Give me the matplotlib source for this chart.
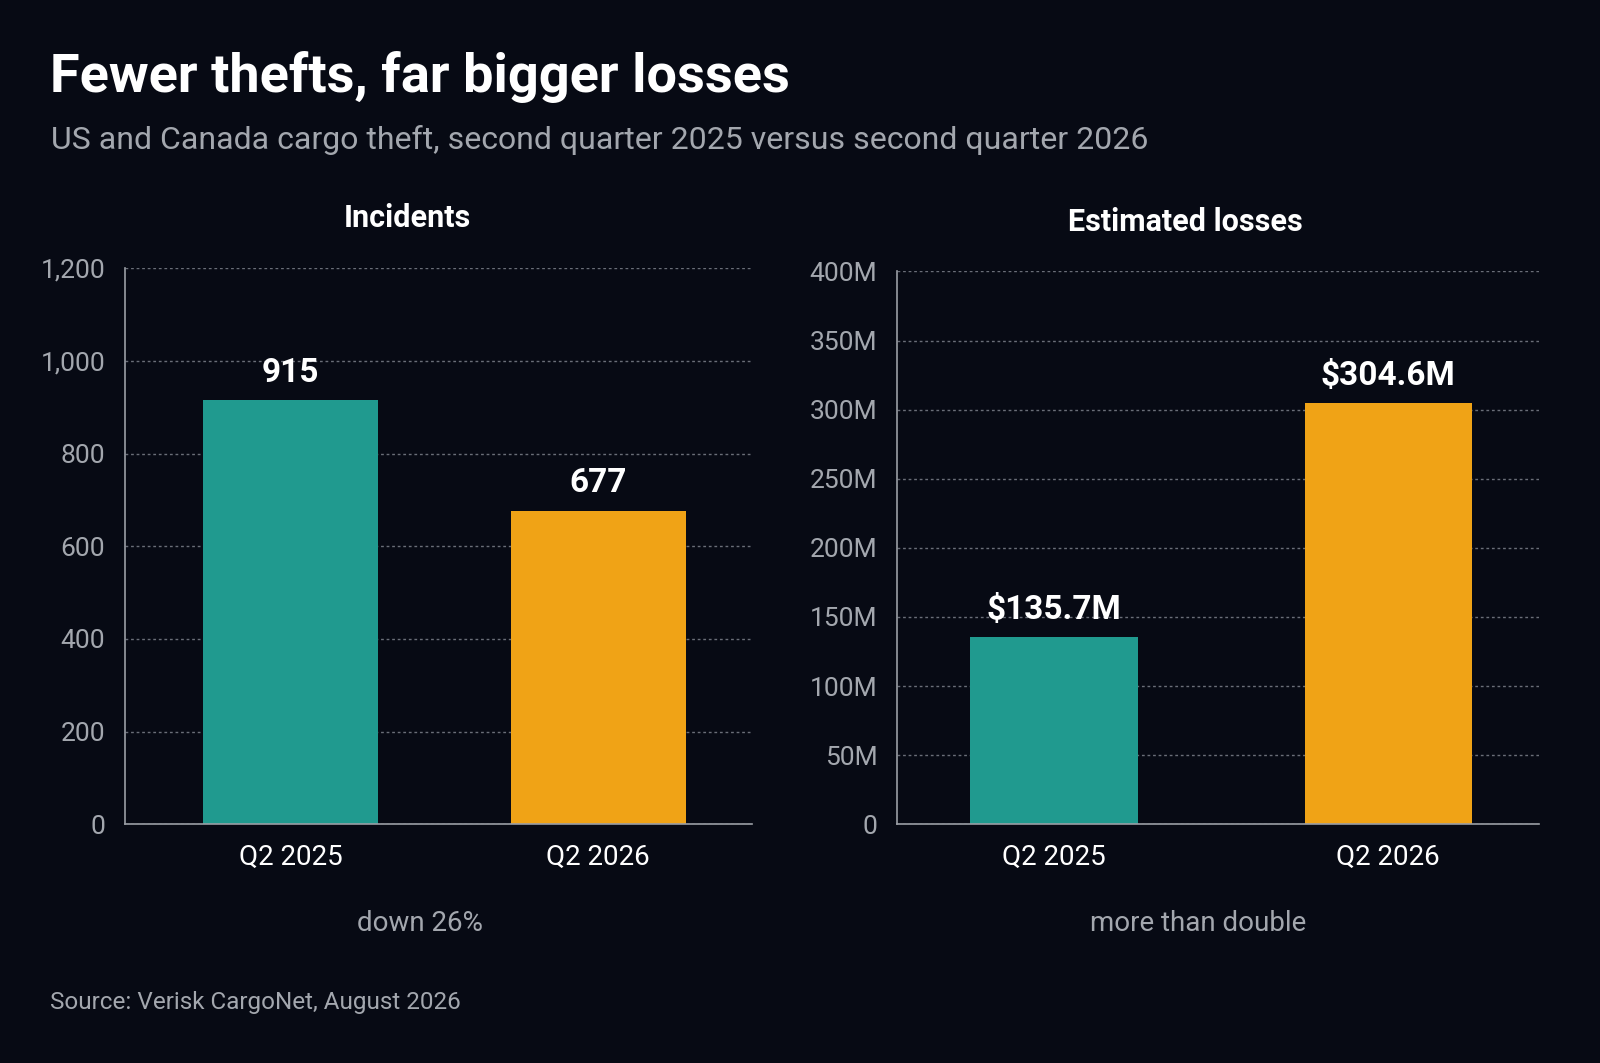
import matplotlib
matplotlib.use("Agg")
import matplotlib.pyplot as plt
from matplotlib.ticker import FuncFormatter

categories = ["Q2 2025", "Q2 2026"]
incidents = [915, 677]
losses = [135.7, 304.6]  # $M
incident_labels = ["915", "677"]
loss_labels = ["$135.7M", "$304.6M"]
colors = ["#209a8f", "#f0a316"]

BG = "#070a14"
GREY = "#a3a7ae"
plt.rcParams['font.family'] = ['Roboto', 'DejaVu Sans']

fig = plt.figure(figsize=(16, 10.63), dpi=100, facecolor=BG)
fig.text(0.031, 0.928, "Fewer thefts, far bigger losses", color="white", fontsize=39, fontweight="bold", va="center")
fig.text(0.032, 0.868, "US and Canada cargo theft, second quarter 2025 versus second quarter 2026", color=GREY, fontsize=23, va="center")
fig.text(0.031, 0.057, "Source: Verisk CargoNet, August 2026", color=GREY, fontsize=17.5, va="center")

def setup(ax, title, note):
    ax.set_facecolor(BG)
    for s in ["top", "right"]:
        ax.spines[s].set_visible(False)
    for s in ["left", "bottom"]:
        ax.spines[s].set_color("#9a9ea5")
        ax.spines[s].set_linewidth(1.2)
    ax.yaxis.grid(True, linestyle=(0, (2, 2)), color="#6a6e78", linewidth=1)
    ax.set_axisbelow(True)
    ax.tick_params(axis="y", colors=GREY, labelsize=19, length=0, pad=14)
    ax.tick_params(axis="x", colors="white", labelsize=20, length=0, pad=14)
    ax.text(0.45, 1.09, title, transform=ax.transAxes, color="white", fontsize=22, fontweight="bold", ha="center", va="center")
    ax.text(0.47, -0.155, note, transform=ax.transAxes, color=GREY, fontsize=20, ha="center", va="top")

ax1 = fig.add_axes([0.078, 0.2246, 0.392, 0.523])
ax1.bar(range(2), incidents, width=0.57, color=colors)
ax1.set_xlim(-0.54, 1.5)
ax1.set_ylim(0, 1200)
ax1.set_yticks(range(0, 1201, 200))
ax1.yaxis.set_major_formatter(FuncFormatter(lambda v, p: f"{int(v):,}"))
ax1.set_xticks(range(2))
ax1.set_xticklabels(categories)
for i, v in enumerate(incidents):
    ax1.text(i, v + 25, incident_labels[i], color="white", fontsize=24, fontweight="bold", ha="center", va="bottom")
setup(ax1, "Incidents", "down 26%")

ax2 = fig.add_axes([0.5606, 0.2246, 0.401, 0.52])
ax2.bar(range(2), losses, width=0.5, color=colors)
ax2.set_xlim(-0.47, 1.45)
ax2.set_ylim(0, 400)
ax2.set_yticks(range(0, 401, 50))
ax2.yaxis.set_major_formatter(FuncFormatter(lambda v, p: "0" if v == 0 else f"{int(v)}M"))
ax2.set_xticks(range(2))
ax2.set_xticklabels(categories)
for i, v in enumerate(losses):
    ax2.text(i, v + 8, loss_labels[i], color="white", fontsize=24, fontweight="bold", ha="center", va="bottom")
setup(ax2, "Estimated losses", "more than double")

fig.savefig("out.png", facecolor=BG)
